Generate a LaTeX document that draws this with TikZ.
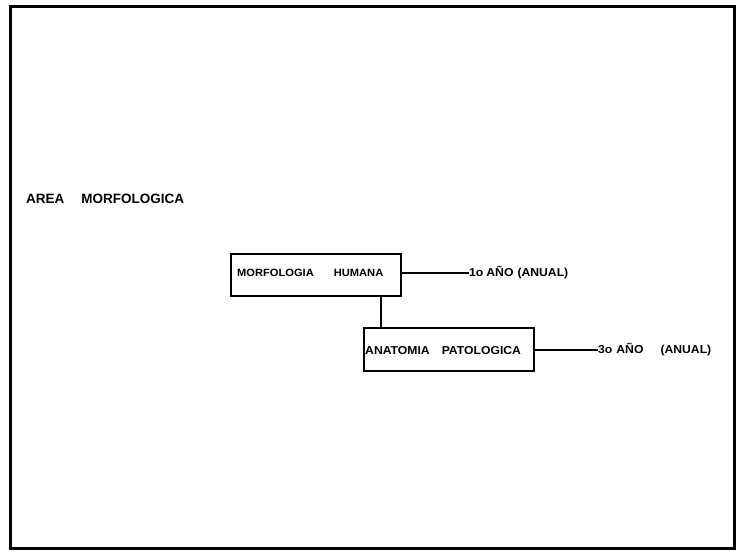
\documentclass[tikz,border=0pt]{standalone}
\usepackage{fontspec}
\setmainfont{Liberation Sans}
\newfontfamily\widesans[FakeStretch=1.06]{Liberation Sans}
\begin{document}
\begin{tikzpicture}[x=1pt,y=-1pt,
  frame/.style={draw, line width=3pt},
  boxnode/.style={draw, line width=1.8pt, inner sep=0pt, anchor=north west},
  lbl/.style={anchor=west, inner sep=0pt, font=\widesans\fontsize{10.5}{12}\selectfont\bfseries},
  yearlbl/.style={lbl, font=\widesans\fontsize{11.5}{13}\selectfont\bfseries},
  conn/.style={line width=1.5pt}]
\useasboundingbox (0,0) rectangle (741,550);
\node[frame, minimum width=724pt, minimum height=542pt, anchor=north west, inner sep=0pt] (fr) at (9,5) {};
\node[anchor=west, inner sep=0pt, font=\fontsize{13.5}{15}\selectfont\bfseries] (title) at (26,199) {AREA\hspace{17pt}MORFOLOGICA};
\node[boxnode, minimum width=170pt, minimum height=42pt] (b1) at (230,253) {};
\node[lbl] (t1) at (237,273) {MORFOLOGIA\hspace{20pt}HUMANA};
\node[boxnode, minimum width=170pt, minimum height=43pt] (b2) at (363,327) {};
\node[lbl, font=\widesans\fontsize{11.5}{13}\selectfont\bfseries] (t2) at (365,351) {ANATOMIA\hspace{12pt}PATOLOGICA};
\node[yearlbl] (y1) at (469,273) {1o\hspace{3pt}A\~NO\hspace{4pt}(ANUAL)};
\node[yearlbl] (y2) at (598,350) {3o\hspace{4pt}A\~NO\hspace{17pt}(ANUAL)};
\draw[conn] (b1.east |- y1.west) -- (y1.west);
\draw[conn] (b2.east |- y2.west) -- (y2.west);
\draw[conn] ([xshift=151pt]b1.south west) -- ([xshift=151pt]b1.south west |- b2.north);
\end{tikzpicture}
\end{document}
